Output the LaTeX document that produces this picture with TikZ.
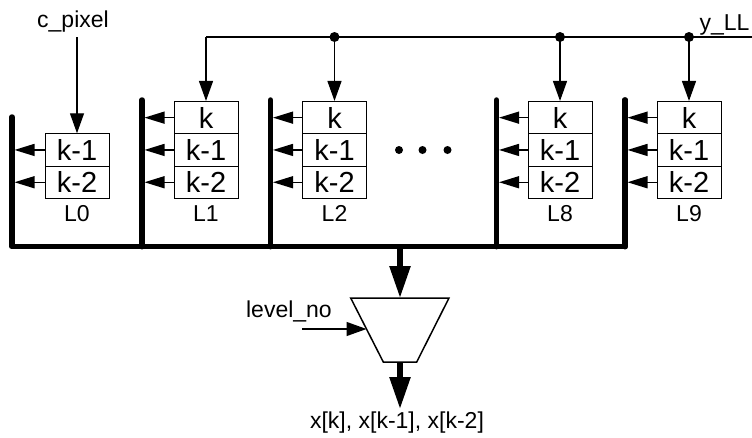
\documentclass[tikz,border=0pt]{standalone}
\usepackage{fontspec}
\setmainfont{Liberation Sans}
\usetikzlibrary{arrows.meta}
\begin{document}
\begin{tikzpicture}[x=1pt,y=-1pt,
 cell/.style={draw,line width=1pt,minimum width=64pt,minimum height=32.4pt,inner sep=0pt,font=\fontsize{29}{29}\selectfont},
 lbl/.style={inner sep=0pt,font=\fontsize{23}{23}\selectfont},
 bus/.style={line width=5.5pt,line cap=round,line join=round},
 thinline/.style={line width=1.3pt},
 inarrow/.style={thinline,-{Triangle[length=20pt,width=14pt]}},
 busarrow/.style={thinline,-{Triangle[length=20pt,width=12pt]}},
 fatarrow/.style={line width=5.5pt,-{Triangle[length=32pt,width=20pt]}},
 jdot/.style={circle,fill,inner sep=0pt,minimum size=10pt},
 edot/.style={circle,fill,inner sep=0pt,minimum size=8pt},
]
\useasboundingbox (0,0) rectangle (752,437);

% L0
\node[cell] (L0k1) at (77,149.95) {k-1};
\node[cell] (L0k2) at (77,182.25) {k-2};
\node[lbl,anchor=base] (L0lbl) at (77,221.7) {L0};
\coordinate (B0top) at (12,117);
\coordinate (B0bot) at (12,246.7);
\coordinate (T0a) at (14.5,149.95);
\coordinate (T0b) at (14.5,182.25);
\draw[busarrow] (L0k1.west) -- (T0a);
\draw[busarrow] (L0k2.west) -- (T0b);
\node[lbl,anchor=base] (cpix) at (73,27) {c\_pixel};
\coordinate (C0) at (77,37);
\draw[inarrow] (C0) -- (L0k1.north);

% L1..L9
\foreach \n/\l/\b in {1/174/142, 2/302.5/270.5, 8/528/496.5, 9/657/625} {
  \node[cell] (L\n k0) at (\l+32,117.65) {k};
  \node[cell] (L\n k1) at (\l+32,149.95) {k-1};
  \node[cell] (L\n k2) at (\l+32,182.25) {k-2};
  \node[lbl,anchor=base] (L\n lbl) at (\l+32,221.7) {L\n};
  \coordinate (B\n top) at (\b,100);
  \coordinate (B\n bot) at (\b,246.7);
  \coordinate (T\n a) at (\b+2.5,117.65);
  \coordinate (T\n b) at (\b+2.5,149.95);
  \coordinate (T\n c) at (\b+2.5,182.25);
  \draw[busarrow] (L\n k0.west) -- (T\n a);
  \draw[busarrow] (L\n k1.west) -- (T\n b);
  \draw[busarrow] (L\n k2.west) -- (T\n c);
  \coordinate (D\n) at (\l+32,37);
  \draw[inarrow] (D\n) -- (L\n k0.north);
  \draw[bus] (B\n top) -- (B\n bot);
}

% y_LL line
\coordinate (Yend) at (752,37);
\draw[thinline] (D1) -- (Yend);
\node[jdot] (J2) at (D2) {};
\node[jdot] (J8) at (D8) {};
\node[jdot] (J9) at (D9) {};
\node[lbl,anchor=base] (yll) at (724.5,30) {y\_LL};

% ellipsis
\node[edot] (e1) at (399,150) {};
\node[edot] (e2) at (422.5,150) {};
\node[edot] (e3) at (447.5,150) {};

% bus
\draw[bus] (B0top) -- (B0bot) -- (B9bot) -- (B9top);

% mux
\coordinate (M1) at (350.7,298);
\coordinate (M2) at (449,298);
\coordinate (M3) at (416.7,362);
\coordinate (M4) at (383.3,362);
\draw[line width=1.5pt,line join=miter] (M1) -- (M2) -- (M3) -- (M4) -- cycle;
\coordinate (S0) at (400,246.7);
\coordinate (Min) at (400,298);
\coordinate (Mout) at (400,362);
\coordinate (Oend) at (400,409);
\draw[fatarrow] (S0) -- (Min);
\draw[fatarrow] (Mout) -- (Oend);
\node[lbl,anchor=base] (xout) at (397,428) {x[k], x[k-1], x[k-2]};

\node[lbl,anchor=base east] (lvl) at (332,317) {level\_no};
\coordinate (Lstart) at (302,329);
\coordinate (Lend) at (366.5,329);
\draw[inarrow] (Lstart) -- (Lend);
\end{tikzpicture}
\end{document}
